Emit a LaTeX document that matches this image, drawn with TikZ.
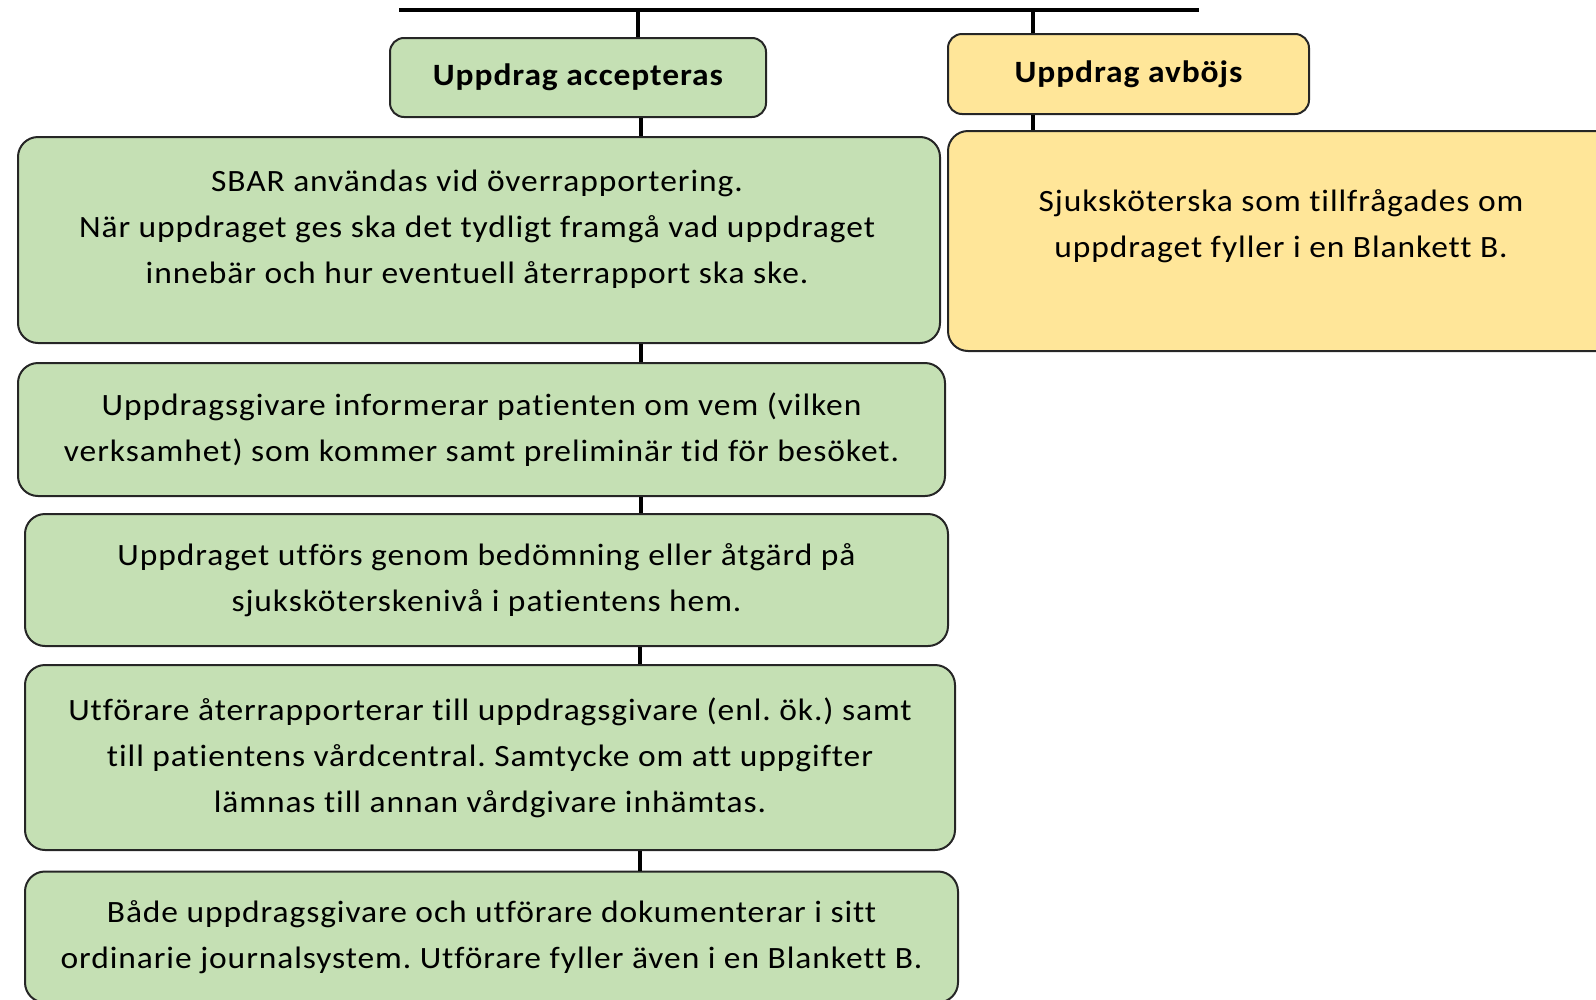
\documentclass[tikz,border=0pt]{standalone}
\usepackage{fontspec}
\setmainfont{Carlito}[FakeStretch=1.08,LetterSpace=3,Ligatures=NoCommon]
\frenchspacing
\definecolor{boxgreen}{HTML}{C5E0B4}
\definecolor{boxyellow}{HTML}{FFE699}
\definecolor{edgec}{HTML}{262626}
\begin{document}
\frenchspacing
\begin{tikzpicture}[x=1pt,y=-1pt,
  txt/.style={font=\fontsize{31}{46}\selectfont\frenchspacing,text=black,align=center,inner sep=0pt},
  box/.style={txt,draw=edgec,line width=2pt,rounded corners=20pt},
  gbox/.style={box,fill=boxgreen},
  ybox/.style={box,fill=boxyellow},
  head/.style={font=\fontsize{31}{46}\selectfont\bfseries,rounded corners=14pt},
  conn/.style={draw=black,line width=3.5pt}]
\useasboundingbox (0,0) rectangle (1596,999);
\clip (0,0) rectangle (1596,999);
\coordinate (tl) at (399,10);
\coordinate (tr) at (1199,10);
\node[gbox,head,minimum width=376pt,minimum height=79pt] (acc) at (578,77.5) {Uppdrag accepteras};
\node[ybox,head,minimum width=361pt,minimum height=80pt] (avb) at (1128.5,74) {Uppdrag avböjs};
\node[gbox,minimum width=922pt,minimum height=206pt] (b1) at (479,240) {};
\node[txt] (b1t) at (477,229) {SBAR användas vid överrapportering.\\När uppdraget ges ska det tydligt framgå vad uppdraget\\innebär och hur eventuell återrapport ska ske.};
\node[ybox,minimum width=672pt,minimum height=220pt] (yb) at (1284,241) {};
\node[txt] (ybt) at (1281,226) {Sjuksköterska som tillfrågades om\\uppdraget fyller i en Blankett B.};
\node[gbox,minimum width=927pt,minimum height=133pt] (b2) at (481.5,429.5) {Uppdragsgivare informerar patienten om vem (vilken\\verksamhet) som kommer samt preliminär tid för besöket.};
\node[gbox,minimum width=923pt,minimum height=132pt] (b3) at (486.5,580) {Uppdraget utförs genom bedömning eller åtgärd på\\sjuksköterskenivå i patientens hem.};
\node[gbox,minimum width=930pt,minimum height=185pt] (b4) at (490,757.5) {Utförare återrapporterar till uppdragsgivare (enl. ök.) samt\\till patientens vårdcentral. Samtycke om att uppgifter\\lämnas till annan vårdgivare inhämtas.};
\node[gbox,minimum width=933pt,minimum height=131pt] (b5) at (491.5,937) {Både uppdragsgivare och utförare dokumenterar i sitt\\ordinarie journalsystem. Utförare fyller även i en Blankett B.};
\draw[conn] (tl) -- (tr);
\draw[conn] (638,10) -- (638,0 |- acc.north);
\draw[conn] (1033,10) -- (1033,0 |- avb.north);
\draw[conn] (641,0 |- acc.south) -- (641,0 |- b1.north);
\draw[conn] (1033,0 |- avb.south) -- (1033,0 |- yb.north);
\draw[conn] (641,0 |- b1.south) -- (641,0 |- b2.north);
\draw[conn] (641,0 |- b2.south) -- (641,0 |- b3.north);
\draw[conn] (640,0 |- b3.south) -- (640,0 |- b4.north);
\draw[conn] (640,0 |- b4.south) -- (640,0 |- b5.north);
\end{tikzpicture}
\end{document}
